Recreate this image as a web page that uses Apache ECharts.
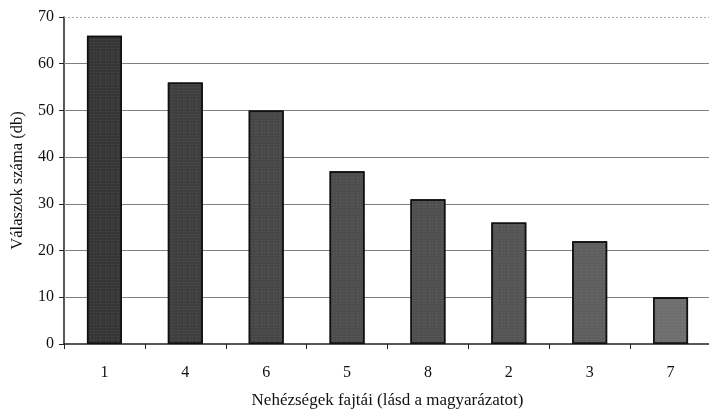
<!DOCTYPE html>
<html>
<head>
<meta charset="utf-8">
<script src="https://cdn.jsdelivr.net/npm/echarts@6/dist/echarts.min.js"></script>
<style>
  html, body { margin: 0; padding: 0; background: #fff; }
  #chart { width: 709px; height: 411px; }
</style>
</head>
<body>
<div id="chart"></div>
<script>
// Difficulty types, sorted by number of answers
const categories = ['1', '4', '6', '5', '8', '2', '3', '7'];
const answerCounts = [66, 56, 50, 37, 31, 26, 22, 10];
const barShades = ['#363636', '#3f3f3f', '#474747', '#4d4d4d', '#4f4f4f', '#545454', '#5e5e5e', '#6e6e6e'];
const gridValues = [10, 20, 30, 40, 50, 60];
const topValue = 70;

const serif = '"Liberation Serif", "DejaVu Serif", serif';
const chart = echarts.init(document.getElementById('chart'));

chart.setOption({
  animation: false,
  backgroundColor: '#ffffff',
  grid: { left: 64, right: -2, top: 17, bottom: 67, outerBoundsMode: 'none', containLabel: false },
  xAxis: {
    type: 'category',
    data: categories,
    name: 'Nehézségek fajtái (lásd a magyarázatot)',
    nameLocation: 'middle',
    nameGap: 48,
    nameTextStyle: { fontFamily: serif, fontSize: 17, color: '#111' },
    axisLine: { lineStyle: { color: '#222', width: 1.5 } },
    axisTick: { show: true, length: 5, lineStyle: { color: '#222' } },
    axisLabel: { fontFamily: serif, fontSize: 16, color: '#111', margin: 21 },
    splitLine: { show: false }
  },
  yAxis: {
    type: 'value',
    min: 0,
    max: 70,
    interval: 10,
    name: 'Válaszok száma (db)',
    nameLocation: 'middle',
    nameGap: 38,
    nameRotate: 90,
    nameTextStyle: { fontFamily: serif, fontSize: 16.5, color: '#111' },
    axisLine: { show: true, lineStyle: { color: '#222', width: 1.5 } },
    axisTick: { show: true, length: 5, lineStyle: { color: '#222' } },
    axisLabel: { fontFamily: serif, fontSize: 16, color: '#111', margin: 10 },
    splitLine: { show: false }
  },
  series: [{
    type: 'bar',
    data: answerCounts.map((v, i) => ({
      value: v,
      itemStyle: { color: barShades[i] }
    })),
    barWidth: 35,
    itemStyle: {
      borderColor: '#111',
      borderWidth: 1.5,
      // fine speckle texture over the bar fill
      decal: {
        symbol: 'rect',
        symbolSize: 0.6,
        color: 'rgba(200,200,200,0.35)',
        dashArrayX: [[1, 2, 2, 1]],
        dashArrayY: [1, 2],
        rotation: 0
      }
    },
    z: 3,
    markLine: {
      silent: true,
      symbol: 'none',
      label: { show: false },
      z: 1,
      data: gridValues.map(v => ({
        yAxis: v,
        lineStyle: { color: '#808080', width: 1, type: 'solid' }
      })).concat([{
        yAxis: topValue,
        lineStyle: { color: '#aaaaaa', width: 1, type: [2, 2] }
      }])
    }
  }]
});
</script>
</body>
</html>
